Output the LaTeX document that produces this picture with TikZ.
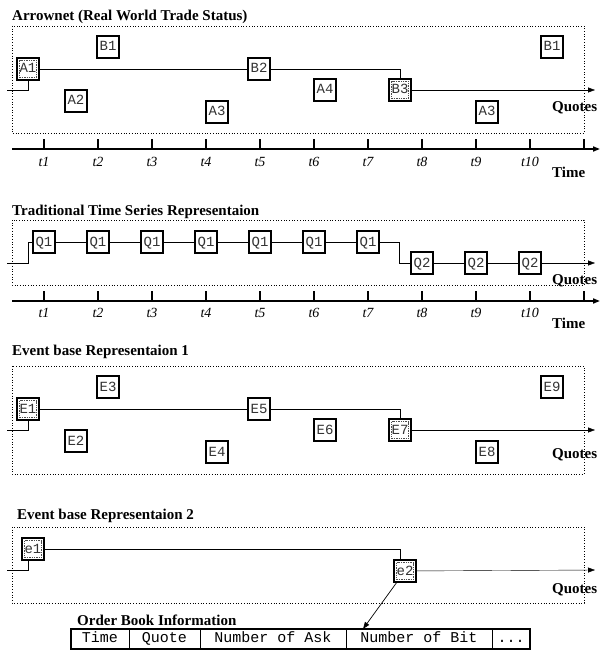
\documentclass[tikz,border=0pt]{standalone}
\usepackage{fontspec}
\setmainfont{Liberation Serif}
\setmonofont{Liberation Mono}
\usetikzlibrary{arrows.meta}
\begin{document}
\begin{tikzpicture}[x=1pt,y=-1pt,>={Triangle[length=7pt,width=5pt]},
  ev/.style={draw,line width=1.4pt,minimum size=22pt,inner sep=0pt,fill=white,
    text height=9pt,text depth=1pt,
    font=\ttfamily\fontsize{14}{14}\selectfont,text=black!80},
  hot/.style={ev,path picture={\draw[densely dotted,black!70]
    ([shift={(2.5pt,-2.5pt)}]path picture bounding box.north west) rectangle
    ([shift={(-2.5pt,2.5pt)}]path picture bounding box.south east);}},
  hd/.style={anchor=base west,inner sep=0pt,font=\bfseries\fontsize{15}{18}\selectfont},
  tl/.style={anchor=base,inner sep=0pt,font=\itshape\fontsize{14}{16}\selectfont},
  frame/.style={dotted,line width=0.7pt},
  axis/.style={line width=1.6pt,->},
  cell/.style={draw,line width=0.7pt,minimum height=20pt,inner sep=0pt,outer sep=0pt,
    text height=10pt,text depth=3pt,
    anchor=west,font=\ttfamily\fontsize{15}{15}\selectfont}]
\useasboundingbox (0,0) rectangle (600,650);

% Arrownet
\node[hd] (tA) at (12,21) {Arrownet (Real World Trade Status)};
\draw[frame] (12,26) rectangle (584,133);
\node[hot] (a1) at (28,69) {A1};
\node[ev] (b1) at (108,47) {B1};
\node[ev] (a2) at (76,101) {A2};
\node[ev] (a3) at (217,112) {A3};
\node[ev] (b2) at (259,69) {B2};
\node[ev] (a4) at (325,90) {A4};
\node[hot] (b3) at (400,90) {B3};
\node[ev] (a3r) at (487,112) {A3};
\node[ev] (b1r) at (552,47) {B1};
\coordinate (inA) at (7,90);
\coordinate (outA) at (595,90);
\draw (inA) -| (a1);
\draw (a1) -- (b2) -| (b3);
\draw[->] (b3) -- (outA);
\node[hd] (qA) at (552,112) {Quotes};
\draw[axis] (12,149) -- (600,149);
\foreach \i in {1,...,11}
  \draw[line width=1.4pt] ({-10+54*\i},139) -- ++(0,10);
\foreach \i in {1,...,10}
  \node[tl] (tA\i) at ({-10+54*\i},166) {t\i};
\node[hd] (xA) at (552,177) {Time};

% Traditional
\node[hd] (tB) at (12,215) {Traditional Time Series Representaion};
\draw[frame] (12,220) rectangle (584,285);
\foreach \i in {1,...,7}
  \node[ev] (q\i) at ({-10+54*\i},242) {Q1};
\foreach \i in {8,9,10}
  \node[ev] (q\i) at ({-10+54*\i},263) {Q2};
\coordinate (inB) at (7,263);
\coordinate (outB) at (595,263);
\draw (inB) -| ([xshift=-4pt]q1.west) -- (q1);
\foreach \i/\j in {1/2,2/3,3/4,4/5,5/6,6/7,8/9,9/10}
  \draw (q\i) -- (q\j);
\draw (q7) -| ([xshift=-11pt]q8.west) -- (q8);
\draw[->] (q10) -- (outB);
\node[hd] (qB) at (552,284) {Quotes};
\draw[axis] (12,301) -- (600,301);
\foreach \i in {1,...,11}
  \draw[line width=1.4pt] ({-10+54*\i},291) -- ++(0,10);
\foreach \i in {1,...,10}
  \node[tl] (tB\i) at ({-10+54*\i},317) {t\i};
\node[hd] (xB) at (552,328) {Time};

% Event base 1
\node[hd] (tC) at (12,355) {Event base Representaion 1};
\draw[frame] (12,366) rectangle (584,474);
\node[hot] (e1) at (28,409) {E1};
\node[ev] (e3) at (108,387) {E3};
\node[ev] (e2) at (76,441) {E2};
\node[ev] (e4) at (217,452) {E4};
\node[ev] (e5) at (259,409) {E5};
\node[ev] (e6) at (325,430) {E6};
\node[hot] (e7) at (400,430) {E7};
\node[ev] (e8) at (487,452) {E8};
\node[ev] (e9) at (552,387) {E9};
\coordinate (inC) at (7,430);
\coordinate (outC) at (595,430);
\draw (inC) -| (e1);
\draw (e1) -- (e5) -| (e7);
\draw[->] (e7) -- (outC);
\node[hd] (qC) at (552,458) {Quotes};

% Event base 2
\node[hd] (tD) at (17,519) {Event base Representaion 2};
\draw[frame] (12,527) rectangle (584,603);
\node[hot] (f1) at (33,549) {e1};
\node[hot] (f2) at (405,571) {e2};
\coordinate (inD) at (7,570);
\coordinate (outD) at (595,570);
\draw (inD) -| ([xshift=-5pt]f1.south);
\draw (f1) -| ([xshift=-5pt]f2.north);
\draw[->] (f2) -- (outD);
\node[hd] (qD) at (552,593) {Quotes};

% order book
\node[hd] (tE) at (77,625) {Order Book Information};
\node[cell,minimum width=58pt] (c1) at (71,639) {Time};
\node[cell,minimum width=71pt] (c2) at (c1.east) {Quote};
\node[cell,minimum width=146pt] (c3) at (c2.east) {Number of Ask};
\node[cell,minimum width=146pt] (c4) at (c3.east) {Number of Bit};
\node[cell,minimum width=38pt] (c5) at (c4.east) {...};
\draw[line width=1.6pt] (c1.north west) rectangle (c5.south east);
\draw[->,line width=0.7pt] (f2) -- ([xshift=17pt]c4.north west);
\end{tikzpicture}
\end{document}
